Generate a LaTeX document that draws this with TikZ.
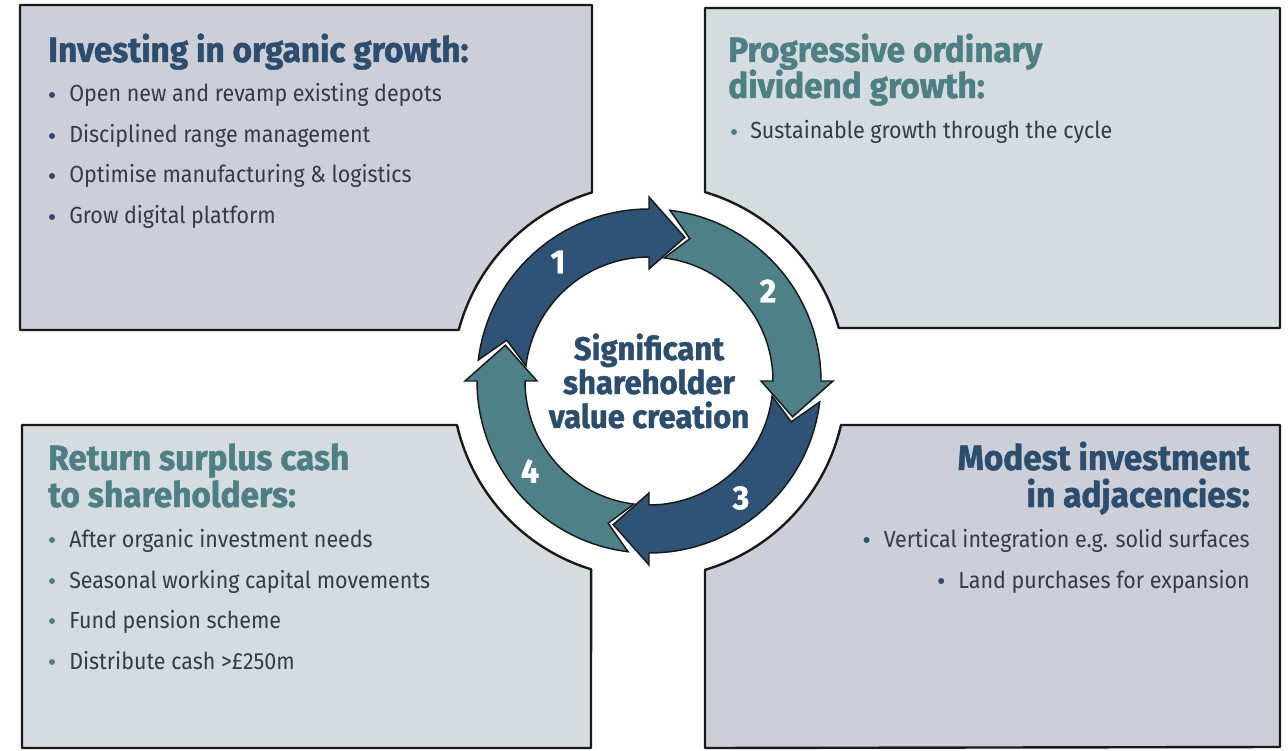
\documentclass[tikz,border=0pt]{standalone}
\usepackage{fontspec}
\setmainfont{Fira Sans}
\newfontfamily\bodyfont[FakeStretch=0.92]{Fira Sans}
\newfontfamily\headfont[FakeStretch=0.95, FakeBold=1.3]{Fira Sans}
\usetikzlibrary{calc}
\definecolor{hdblue}{HTML}{2D4D6E}
\definecolor{hdteal}{HTML}{4D7F84}
\definecolor{arblue}{HTML}{2F5377}
\definecolor{arteal}{HTML}{4E8087}
\definecolor{fillA}{HTML}{CDCFD8}
\definecolor{fillB}{HTML}{D4DCDF}
\definecolor{bodytxt}{HTML}{363B43}
\tikzset{
  boxshape/.style={fill=#1, draw=black!90, line width=1.8pt, line join=round},
  heading/.style={inner sep=0pt, font=\headfont\bfseries\fontsize{26.3}{30}\selectfont, text=#1},
  item/.style={inner sep=0pt, font=\bodyfont\fontsize{17.5}{20}\selectfont, text=bodytxt},
  dot/.style={fill=#1, draw=none},
  arrowshape/.style={fill=#1, draw=black!90, line width=1.1pt, line join=miter},
  num/.style={inner sep=0pt, text=white, font=\headfont\bfseries\fontsize{25}{28}\selectfont},
}
\newcommand{\ringarrow}[4]{%
  \pgfmathsetmacro\tipang{#3-14}%
  \path[arrowshape=#1] ($(C)+(#2:172)$) arc[start angle=#2, end angle=#3, radius=172]
    -- ($(C)+(#3:184)$) -- ($(C)+(\tipang:148)$) -- ($(C)+(#3:112)$)
    -- ($(C)+(#3:124)$) arc[start angle=#3, end angle=#2, radius=124]
    -- ($(C)+(#4:148)$) -- cycle;}
\begin{document}
\begin{tikzpicture}[x=0.75pt, y=0.75pt]
\useasboundingbox (0,0) rectangle (1288,750);
\fill[white] (0,0) rectangle (1288,750);
\coordinate (C) at (649,369);
% boxes
\path[boxshape=fillA] (20,745) -- (592,745) -- ($(C)+(106.82:197)$)
  arc[start angle=106.82, end angle=165.0, radius=197] -- (20,420) -- cycle;
\path[boxshape=fillB] (705,742) -- (1280,742) -- (1280,422) -- ($(C)+(15.61:197)$)
  arc[start angle=15.61, end angle=73.49, radius=197] -- cycle;
\path[boxshape=fillB] (22,325) -- ($(C)+(192.9:197)$)
  arc[start angle=192.9, end angle=252.9, radius=197] -- (591,2) -- (22,2) -- cycle;
\path[boxshape=fillA] (705,2) -- ($(C)+(-73.49:197)$)
  arc[start angle=-73.49, end angle=-12.9, radius=197] -- (1280,325) -- (1280,3) -- cycle;
% ring arrows
\ringarrow{arblue}{173}{90}{164}
\ringarrow{arteal}{83}{0}{74}
\ringarrow{arblue}{-7}{-90}{-16}
\ringarrow{arteal}{-97}{-180}{-106}
\node[num] (n1) at (558,488) {1};
\node[num] (n2) at (768,459) {2};
\node[num] (n3) at (741,252) {3};
\node[num] (n4) at (530,279) {4};
\node[inner sep=0pt, align=center, text=hdblue, font=\headfont\bfseries\fontsize{24.5}{25.5}\selectfont] (centre) at (C) {Significant\\shareholder\\value creation};
% top left
\node[heading=hdblue, anchor=base west] (h1) at (48,688) {Investing in organic growth:};
\node[item, anchor=base west] (a1) at (69,648) {Open new and revamp existing depots};
\node[item, anchor=base west] (a2) at (69,607) {Disciplined range management};
\node[item, anchor=base west] (a3) at (69,567) {Optimise manufacturing \& logistics};
\node[item, anchor=base west] (a4) at (69,526) {Grow digital platform};
\foreach \n in {a1,a2,a3,a4} \fill[dot=hdblue] ($(\n.base west)+(-17,7)$) circle[radius=3];
% top right
\node[heading=hdteal, anchor=base west] (h2a) at (728,688) {Progressive ordinary};
\node[heading=hdteal, anchor=base west] (h2b) at (728,652) {dividend growth:};
\node[item, anchor=base west] (b1) at (750,611) {Sustainable growth through the cycle};
\fill[dot=hdteal] ($(b1.base west)+(-16,7)$) circle[radius=3];
% bottom left
\node[heading=hdteal, anchor=base west] (h3a) at (48,280) {Return surplus cash};
\node[heading=hdteal, anchor=base west] (h3b) at (48,243) {to shareholders:};
\node[item, anchor=base west] (c1) at (69,203) {After organic investment needs};
\node[item, anchor=base west] (c2) at (69,162) {Seasonal working capital movements};
\node[item, anchor=base west] (c3) at (69,122) {Fund pension scheme};
\node[item, anchor=base west] (c4) at (69,81) {Distribute cash >£250m};
\foreach \n in {c1,c2,c3,c4} \fill[dot=hdteal] ($(\n.base west)+(-17,7)$) circle[radius=3];
% bottom right
\node[heading=hdblue, anchor=base east] (h4a) at (1250,280) {Modest investment};
\node[heading=hdblue, anchor=base east] (h4b) at (1250,243) {in adjacencies:};
\node[item, anchor=base east] (d1) at (1250,203) {Vertical integration e.g. solid surfaces};
\node[item, anchor=base east] (d2) at (1250,162) {Land purchases for expansion};
\foreach \n in {d1,d2} \fill[dot=hdblue] ($(\n.base west)+(-17,7)$) circle[radius=3];
\end{tikzpicture}
\end{document}
